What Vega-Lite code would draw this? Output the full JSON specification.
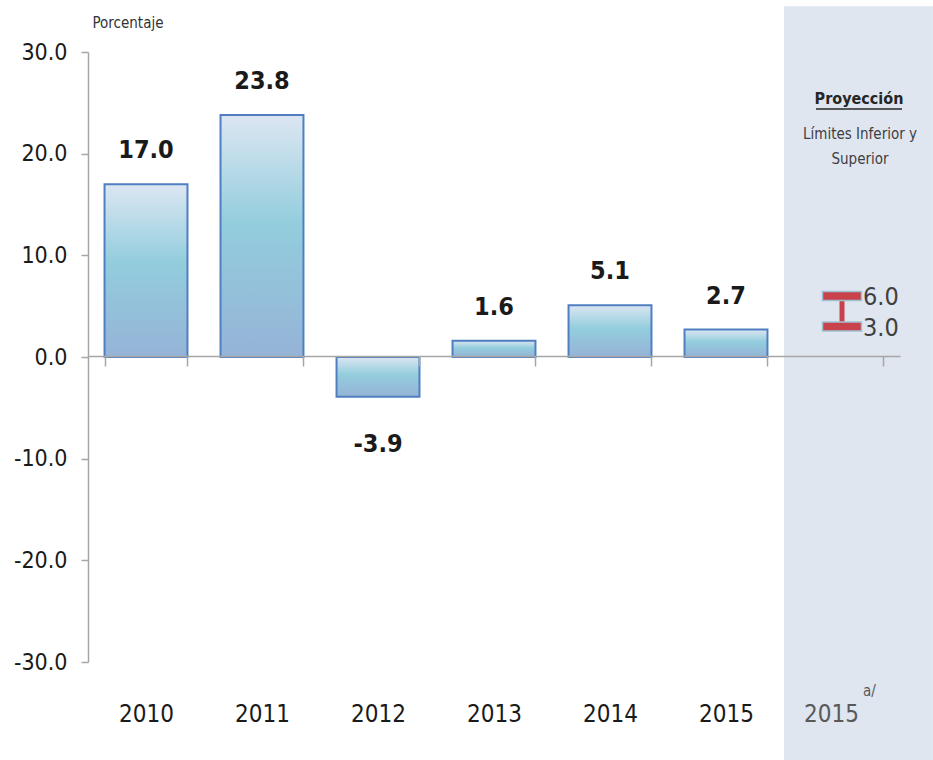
{
  "$schema": "https://vega.github.io/schema/vega-lite/v6.json",
  "width": 812,
  "height": 610,
  "autosize": "none",
  "padding": {"left": 88, "top": 52, "right": 33, "bottom": 98},
  "background": "white",
  "config": {
    "view": {"stroke": null},
    "font": "DejaVu Sans Condensed, Liberation Sans",
    "locale": {"number": {"decimal": ".", "thousands": ",", "grouping": [3], "currency": ["$", ""], "minus": "-"}}
  },
  "datasets": {
    "bars": [
      {"year": "2010", "value": 17.0},
      {"year": "2011", "value": 23.8},
      {"year": "2012", "value": -3.9},
      {"year": "2013", "value": 1.6},
      {"year": "2014", "value": 5.1},
      {"year": "2015", "value": 2.7}
    ],
    "proj": [{"year": "2015a", "lo": 3.0, "hi": 6.0}]
  },
  "encoding": {
    "x": {
      "field": "year",
      "type": "nominal",
      "sort": null,
      "scale": {"domain": ["2010", "2011", "2012", "2013", "2014", "2015", "2015a"], "paddingInner": 0.285, "paddingOuter": 0.1425},
      "axis": {
        "title": null,
        "labelAngle": 0,
        "offset": -306,
        "domainColor": "#a6a6a6",
        "domainWidth": 1.5,
        "tickColor": "#a6a6a6",
        "tickWidth": 1.5,
        "tickSize": 10,
        "tickBand": "extent",
        "labelPadding": 336,
        "labelFontSize": 24,
        "labelFont": "DejaVu Sans Condensed, Liberation Sans",
        "labelColor": {"condition": {"test": "datum.value == '2015a'", "value": "#595959"}, "value": "#1a1a1a"},
        "labelOffset": {"condition": {"test": "datum.value == '2015a'", "value": -11}, "value": 0},
        "labelExpr": "datum.value == '2015a' ? '2015' : datum.value",
        "zindex": 1
      }
    }
  },
  "layer": [
    {
      "data": {"values": [{"year": "2015a"}]},
      "mark": {"type": "bar", "color": "#dfe6f0", "width": {"band": 1.795}, "xOffset": 16.5},
      "encoding": {"y": {"datum": 34.5}, "y2": {"datum": -39.8}}
    },
    {
      "data": {"name": "bars"},
      "mark": {
        "type": "bar",
        "color": {"gradient": "linear", "x1": 0, "y1": 0, "x2": 0, "y2": 1,
          "stops": [{"offset": 0, "color": "#dce6f2"}, {"offset": 0.45, "color": "#93cddd"}, {"offset": 1, "color": "#95b3d7"}]},
        "stroke": "#4f7fc0",
        "strokeWidth": 2
      },
      "encoding": {
        "y": {
          "field": "value",
          "type": "quantitative",
          "scale": {"domain": [-30, 30], "nice": false},
          "axis": {
            "title": "Porcentaje",
            "titleAngle": 0,
            "titleX": 4,
            "titleY": -30,
            "titleAlign": "left",
            "titleBaseline": "middle",
            "titleFontSize": 15,
            "titleFontWeight": "normal",
            "titleFont": "DejaVu Sans Condensed, Liberation Sans",
            "titleColor": "#333333",
            "values": [-30, -20, -10, 0, 10, 20, 30],
            "format": ".1f",
            "labelFontSize": 23,
            "labelFont": "DejaVu Sans Condensed, Liberation Sans",
            "labelColor": "#1a1a1a",
            "labelPadding": 14,
            "tickSize": 7,
            "tickWidth": 1.5,
            "tickColor": "#a6a6a6",
            "domainColor": "#a6a6a6",
            "domainWidth": 1.5,
            "grid": false,
            "zindex": 1
          }
        }
      }
    },
    {
      "data": {"name": "bars"},
      "transform": [{"filter": "datum.value > 0"}],
      "mark": {"type": "text", "baseline": "alphabetic", "dy": -26, "fontSize": 25, "fontWeight": "bold", "color": "#1a1a1a"},
      "encoding": {"y": {"field": "value", "type": "quantitative"}, "text": {"field": "value", "format": ".1f"}}
    },
    {
      "data": {"name": "bars"},
      "transform": [{"filter": "datum.value < 0"}],
      "mark": {"type": "text", "baseline": "alphabetic", "dy": 55, "fontSize": 25, "fontWeight": "bold", "color": "#1a1a1a"},
      "encoding": {"y": {"field": "value", "type": "quantitative"}, "text": {"field": "value", "format": ".1f"}}
    },
    {
      "data": {"name": "proj"},
      "mark": {"type": "rule", "color": "#c8424b", "strokeWidth": 5},
      "encoding": {"y": {"field": "lo", "type": "quantitative"}, "y2": {"field": "hi"}}
    },
    {
      "data": {"name": "proj"},
      "mark": {"type": "tick", "color": "#c8424b", "size": 39, "thickness": 9, "opacity": 1, "stroke": "#9fc2d3", "strokeWidth": 1.5},
      "encoding": {"y": {"field": "hi", "type": "quantitative"}}
    },
    {
      "data": {"name": "proj"},
      "mark": {"type": "tick", "color": "#c8424b", "size": 39, "thickness": 9, "opacity": 1, "stroke": "#9fc2d3", "strokeWidth": 1.5},
      "encoding": {"y": {"field": "lo", "type": "quantitative"}}
    },
    {
      "data": {"name": "proj"},
      "mark": {"type": "text", "align": "left", "baseline": "middle", "dx": 21, "dy": 1, "fontSize": 25, "color": "#404040"},
      "encoding": {"y": {"field": "hi", "type": "quantitative"}, "text": {"field": "hi", "format": ".1f"}}
    },
    {
      "data": {"name": "proj"},
      "mark": {"type": "text", "align": "left", "baseline": "middle", "dx": 21, "dy": 1, "fontSize": 25, "color": "#404040"},
      "encoding": {"y": {"field": "lo", "type": "quantitative"}, "text": {"field": "lo", "format": ".1f"}}
    },
    {
      "data": {"values": [{"year": "2015a", "label": "Proyección"}]},
      "mark": {"type": "text", "align": "center", "baseline": "alphabetic", "dx": 17, "fontSize": 16, "fontWeight": "bold", "color": "#262626"},
      "encoding": {"y": {"datum": 24.9}, "text": {"field": "label"}}
    },
    {
      "data": {"values": [{"year": "2015a"}]},
      "mark": {"type": "tick", "color": "#262626", "size": 86, "thickness": 1.5, "opacity": 1, "xOffset": 17},
      "encoding": {"y": {"datum": 24.4}}
    },
    {
      "data": {"values": [{"year": "2015a", "label": "Límites Inferior y"}]},
      "mark": {"type": "text", "align": "center", "baseline": "alphabetic", "dx": 18, "fontSize": 15, "color": "#404040"},
      "encoding": {"y": {"datum": 21.4}, "text": {"field": "label"}}
    },
    {
      "data": {"values": [{"year": "2015a", "label": "Superior"}]},
      "mark": {"type": "text", "align": "center", "baseline": "alphabetic", "dx": 18, "fontSize": 15, "color": "#404040"},
      "encoding": {"y": {"datum": 19.0}, "text": {"field": "label"}}
    },
    {
      "data": {"values": [{"year": "2015a", "label": "a/"}]},
      "mark": {"type": "text", "align": "left", "baseline": "alphabetic", "dx": 21, "fontSize": 15, "color": "#595959"},
      "encoding": {"y": {"datum": -33.3}, "text": {"field": "label"}}
    }
  ]
}
